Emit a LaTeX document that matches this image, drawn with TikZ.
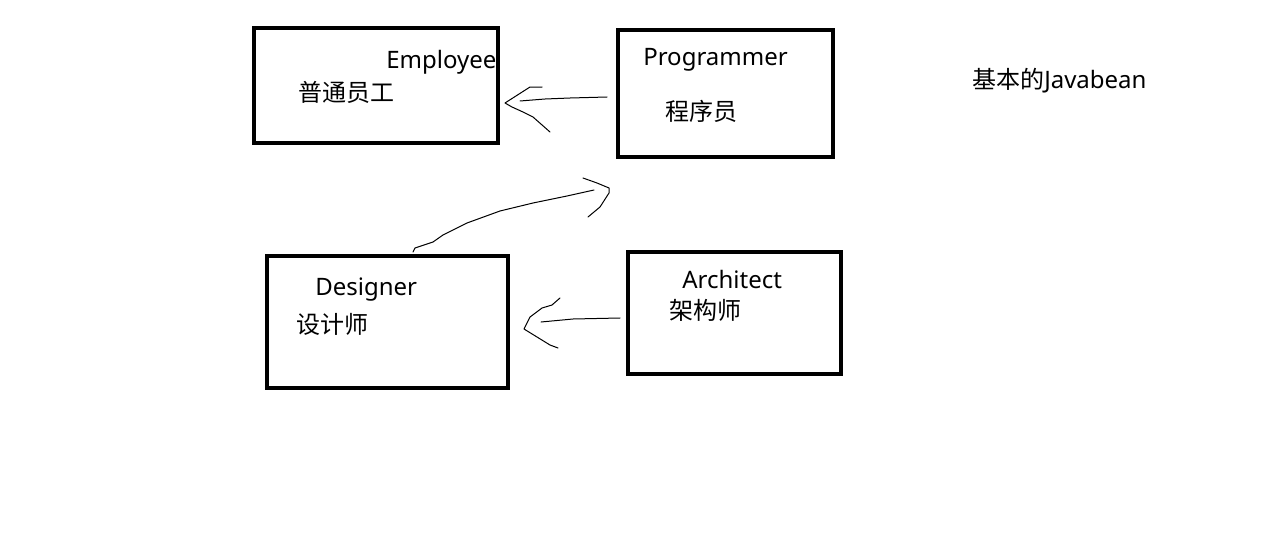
\documentclass[tikz,border=0pt]{standalone}
\usepackage{fontspec}
\usepackage{tikz}
\setmainfont{Noto Sans}
\newfontfamily\cjk{Noto Sans CJK SC}
\usetikzlibrary{positioning}
\definecolor{inkBlack}{RGB}{0,0,0}

\begin{document}
\begin{tikzpicture}[x=0.75pt,y=-0.75pt,
  box/.style={draw=inkBlack, line width=3pt, inner sep=0pt},
  lbl/.style={anchor=base west, inner sep=0pt, font=\fontsize{18}{22}\selectfont},
  hand/.style={draw=inkBlack, line width=0.75pt, line join=round, line cap=round}]
\useasboundingbox (0,0) rectangle (1265,539);

\node[box, minimum width=183pt, minimum height=86.25pt] (emp) at (376,85.5) {};
\node[box, minimum width=161.25pt, minimum height=95.25pt] (prog) at (725.5,93.5) {};
\node[box, minimum width=180.75pt, minimum height=99pt] (des) at (387.5,322) {};
\node[box, minimum width=159.75pt, minimum height=91.5pt] (arch) at (734.5,313) {};

\node[lbl] (empen) at (386,68) {Employee};
\node[lbl] (empcn) at (298,101) {\cjk 普通员工};
\node[lbl] (progen) at (643,65) {Programmer};
\node[lbl] (progcn) at (665,120) {\cjk 程序员};
\node[lbl] (desen) at (315,295) {Designer};
\node[lbl] (descn) at (296,333) {\cjk 设计师};
\node[lbl] (archen) at (682,288) {Architect};
\node[lbl] (archcn) at (669,319) {\cjk 架构师};
\node[lbl] (title) at (972,88) {{\cjk 基本的}Javabean};

% Programmer -> Employee
\coordinate (pe0) at (607,97);
\coordinate (pe1) at (505,103);
\draw[hand] (pe0) -- (570,98) -- (545,99) -- (520,101);
\draw[hand] (542,87) -- (530,87) -- (pe1) -- (512,107) -- (523,112) -- (533,117) -- (550,132);

% Designer -> Programmer
\coordinate (dp0) at (413,252);
\coordinate (dp1) at (609,188);
\draw[hand] (dp0) -- (415,248) -- (433,242) -- (443,235) -- (467,223) -- (500,211)
  -- (533,203) -- (567,196) -- (594,190);
\draw[hand] (583,178) -- (597,183) -- (dp1) -- (609,193) -- (600,207) -- (588,217);

% Architect -> Designer
\coordinate (ad0) at (620,318);
\coordinate (ad1) at (524,329);
\draw[hand] (ad0) -- (573,319) -- (541,322);
\draw[hand] (560,298) -- (552,305) -- (542,308) -- (530,317) -- (ad1) -- (537,337) -- (550,345) -- (558,348);
\end{tikzpicture}
\end{document}
